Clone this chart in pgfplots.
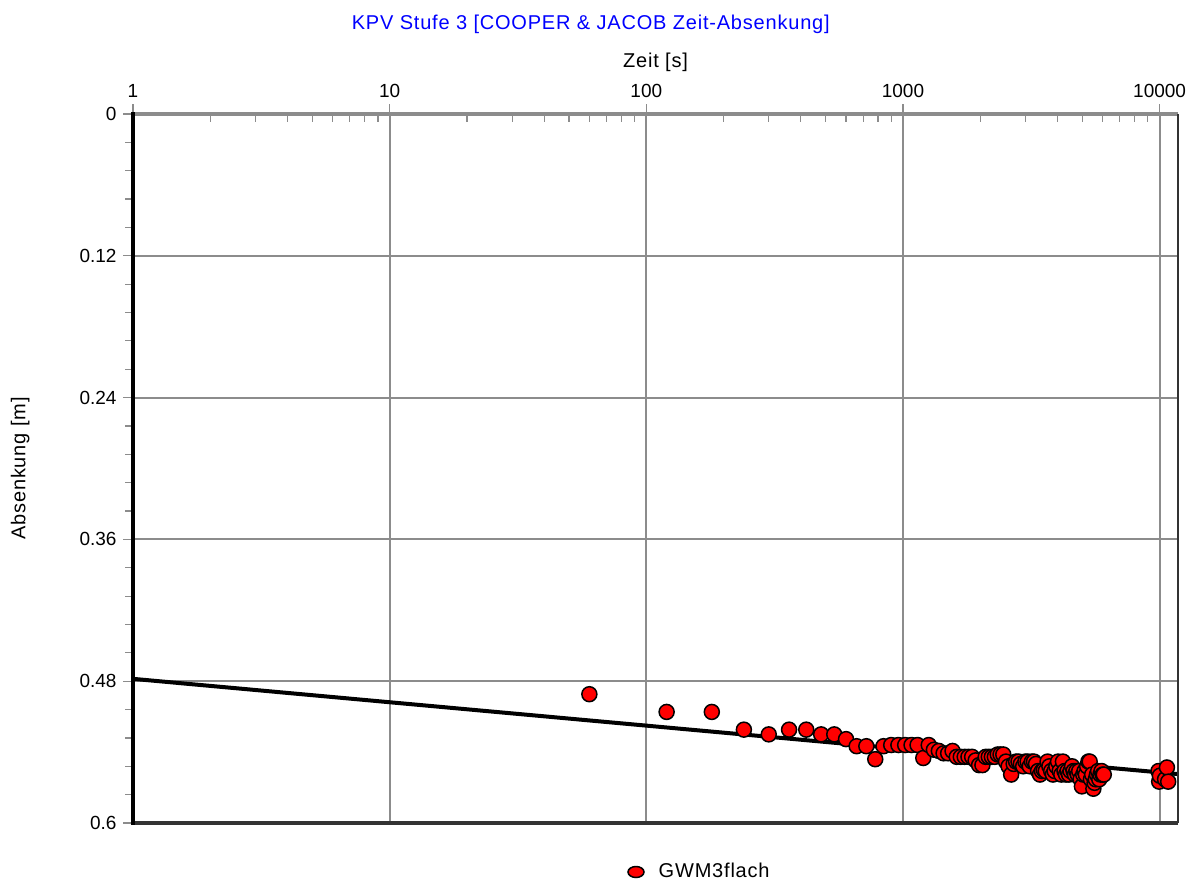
\documentclass[border=0pt]{standalone}
\usepackage{fontspec}
\setmainfont{Liberation Sans}
\newfontfamily\widefont[LetterSpace=4]{Liberation Sans}
\usepackage{pgfplots}
\pgfplotsset{compat=1.18}
\definecolor{gridgray}{RGB}{140,140,140}
\definecolor{titleblue}{RGB}{0,0,255}
\definecolor{ptred}{RGB}{255,0,0}
\begin{document}
\fontsize{19bp}{22bp}\selectfont
\begin{tikzpicture}
\path[use as bounding box] (-133bp,-61bp) rectangle (1063bp,823bp);
\begin{axis}[
 at={(0,0)}, anchor=south west,
 scale only axis, width=1045bp, height=709bp,
 xmode=log, xmin=1, xmax=11800,
 ymin=0, ymax=0.6, y dir=reverse,
 xtick={1,10,100,1000,10000}, xticklabels={1,10,100,1000,10000},
 ytick={0,0.12,0.24,0.36,0.48,0.6}, yticklabels={0,0.12,0.24,0.36,0.48,0.6},
 minor y tick num=4,
 xtick pos=right, xticklabel pos=right, ytick pos=left,
 tick align=outside,
 major tick length=10bp, minor tick length=8bp,
 tick style={gridgray, line width=1.2bp},
 every minor x tick/.append style={yshift=-8bp},
 grid=major,
 major grid style={gridgray, line width=2bp},
 axis line style={draw=none},
 tick label style={font=\fontsize{19bp}{22bp}\selectfont},
 title={KPV Stufe 3 [COOPER \& JACOB Zeit-Absenkung]},
 title style={at={(axis description cs:0.438,1)}, anchor=center, yshift=84bp, text=titleblue, font=\widefont\fontsize{20bp}{22bp}\selectfont},
 xlabel={Zeit [s]},
 xlabel style={at={(axis description cs:0.5,1)}, anchor=center, yshift=52bp, font=\widefont\fontsize{20bp}{22bp}\selectfont},
 ylabel={Absenkung [m]},
 ylabel style={at={(axis description cs:-0.108,0.5)}, anchor=center, font=\widefont\fontsize{20bp}{22bp}\selectfont},
 legend style={at={(axis description cs:0.542,0)}, anchor=center, yshift=-49bp, draw=none, fill=none, font=\widefont\fontsize{20bp}{22bp}\selectfont,
   /tikz/every odd column/.append style={column sep=12bp}},
 legend image code/.code={\draw[fill=ptred, draw=black, line width=1.5bp] (0.3cm,0cm) ellipse (8bp and 5.5bp);},
 legend cell align=left,
]
\addplot[only marks, mark=*, mark size=7.5bp, mark options={fill=ptred, draw=black, line width=1.5bp}] table {
t s
60 0.491
120 0.506
180 0.506
240 0.521
300 0.525
360 0.521
420 0.521
480 0.525
540 0.525
600 0.529
660 0.535
720 0.535
780 0.546
840 0.535
900 0.534
960 0.534
1020 0.534
1080 0.534
1140 0.534
1200 0.545
1260 0.534
1320 0.538
1380 0.539
1440 0.541
1500 0.541
1560 0.539
1620 0.544
1680 0.544
1740 0.544
1800 0.544
1860 0.544
1920 0.547
1980 0.551
2040 0.551
2100 0.544
2160 0.544
2220 0.544
2280 0.544
2340 0.542
2400 0.542
2460 0.542
2520 0.548
2580 0.552
2640 0.559
2700 0.550
2760 0.548
2820 0.548
2880 0.550
2940 0.552
3000 0.548
3060 0.548
3120 0.552
3180 0.548
3240 0.548
3300 0.550
3360 0.556
3420 0.559
3480 0.556
3540 0.555
3600 0.556
3660 0.548
3720 0.552
3780 0.556
3840 0.559
3900 0.556
3960 0.552
4020 0.548
4080 0.556
4140 0.559
4200 0.548
4260 0.556
4320 0.559
4380 0.556
4440 0.559
4500 0.556
4560 0.552
4620 0.556
4680 0.559
4740 0.556
4800 0.559
4860 0.556
4920 0.563
4980 0.569
5040 0.559
5100 0.556
5160 0.559
5220 0.552
5280 0.548
5340 0.548
5400 0.563
5460 0.559
5520 0.571
5580 0.566
5640 0.563
5700 0.559
5760 0.556
5820 0.563
5880 0.559
5940 0.556
6000 0.559
6060 0.559
9900 0.556
9960 0.565
10020 0.560
10500 0.563
10680 0.553
10800 0.565
};
\addlegendentry{GWM3flach}
\addplot[black, line width=4bp, no marks, forget plot] coordinates {(1,0.478) (11800,0.5586)};
\end{axis}
\draw[gridgray, line width=4bp] (0,709bp) -- (1045bp,709bp);
\draw[black!80, line width=3bp] (0,0) -- (1045bp,0);
\draw[black!80, line width=2bp] (1045bp,0) -- (1045bp,709bp);
\draw[black, line width=4bp] (0,-1.5bp) -- (0,711bp);
\end{tikzpicture}
\end{document}
